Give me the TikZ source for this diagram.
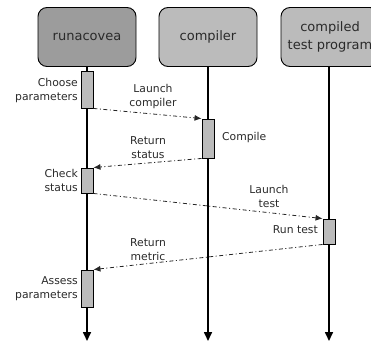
\documentclass[tikz,border=0pt]{standalone}
\usepackage{fontspec}
\setmainfont{DejaVu Sans}
\usetikzlibrary{arrows.meta}
\definecolor{headdark}{HTML}{9C9C9C}
\definecolor{headlight}{HTML}{BBBBBB}
\definecolor{actfill}{HTML}{BBBBBB}
\definecolor{txt}{HTML}{2A2A2A}
\tikzset{
  header/.style={draw=black, line width=0.9pt, rounded corners=9pt,
    minimum width=98pt, minimum height=59pt, inner sep=0pt, align=center,
    text=txt, font=\fontsize{13}{17.5}\selectfont},
  activity/.style={draw=black, line width=0.9pt, fill=actfill,
    minimum width=12pt, inner sep=0pt},
  lifeline/.style={line width=1.6pt, -{Triangle[length=9pt,width=8pt]}},
  message/.style={line width=0.8pt, draw=black!85,
    dash pattern=on 4pt off 2.5pt on 1pt off 2.5pt,
    -{Latex[length=7pt,width=6pt]}},
  note/.style={inner sep=0pt, text=txt, font=\fontsize{10.8}{14}\selectfont}
}
\begin{document}
\begin{tikzpicture}[x=1pt, y=-1pt]
  \useasboundingbox (0,0) rectangle (371,343);
  \begin{scope}
    \clip (0,0) rectangle (371,343);
    % participants
    \node[header, fill=headdark]  (run) at (87,37)  {runacovea};
    \node[header, fill=headlight] (cc)  at (208,37) {compiler};
    \node[header, fill=headlight] (tp)  at (330,37) {compiled\\test program};
  \end{scope}
  % ends of the lifelines
  \coordinate (runend) at (87,341);
  \coordinate (ccend)  at (208,341);
  \coordinate (tpend)  at (329,341);
  \draw[lifeline] (run.south) -- (runend);
  \draw[lifeline] (cc.south)  -- (ccend);
  \draw[lifeline] (tp.south -| tpend) -- (tpend);
  % activations
  \node[activity, minimum height=37pt] (choose)  at (87,89.5)  {};
  \node[activity, minimum height=39pt] (compile) at (208,138.5) {};
  \node[activity, minimum height=25pt] (check)   at (87,180.5) {};
  \node[activity, minimum height=25pt] (runtest) at (329,231.5) {};
  \node[activity, minimum height=37pt] (assess)  at (87,288.5) {};
  % messages
  \draw[message] (choose.south east) -- (compile.north west);
  \draw[message] (compile.south west) -- (check.north east);
  \draw[message] (check.south east) -- (runtest.north west);
  \draw[message] (runtest.south west) -- (assess.north east);
  % labels
  \node[note, anchor=east, align=right]  (l1) at (78,91)   {Choose\\parameters};
  \node[note, align=center]              (l2) at (153,97)  {Launch\\compiler};
  \node[note, anchor=west]               (l3) at (222,138) {Compile};
  \node[note, align=center]              (l4) at (148,148) {Return\\status};
  \node[note, anchor=east, align=right]  (l5) at (78,180)  {Check\\status};
  \node[note, align=center]              (l6) at (269,196) {Launch\\test};
  \node[note, anchor=east]               (l7) at (318,230) {Run test};
  \node[note, align=center]              (l8) at (148,250) {Return\\metric};
  \node[note, anchor=east, align=right]  (l9) at (78,289)  {Assess\\parameters};
\end{tikzpicture}
\end{document}
